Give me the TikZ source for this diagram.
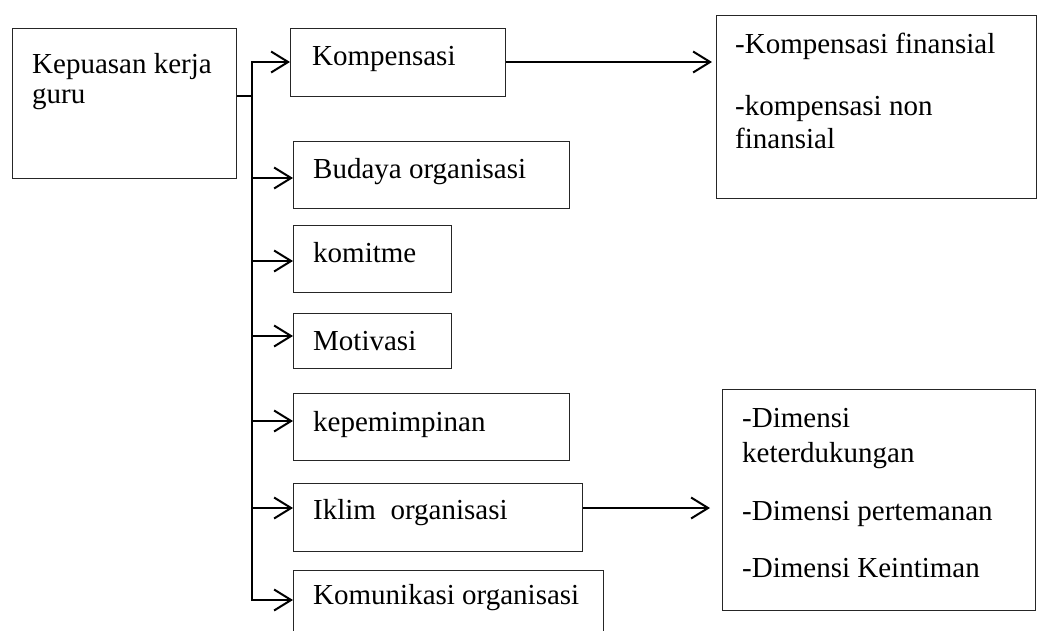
\documentclass[tikz,border=0pt]{standalone}
\usepackage{fontspec}
\setmainfont{Liberation Serif}
\usetikzlibrary{arrows.meta,calc}
\begin{document}
\begin{tikzpicture}[x=1pt,y=-1pt,
  box/.style={draw=black!85, line width=1.1pt, inner sep=0pt, anchor=north west},
  txt/.style={anchor=base west, inner sep=0pt, font=\fontsize{29}{33}\selectfont},
  conn/.style={draw=black, line width=2pt, line join=miter},
  arr/.style={-{Straight Barb[length=17pt,width=21pt,line width=2pt]}},
  thin/.style={draw=black, line width=1.2pt}]
\useasboundingbox (0,0) rectangle (1037,630);
\clip (0,0) rectangle (1037,630);
% boxes
\node[box, minimum width=224pt, minimum height=150pt] (main) at (12,28) {};
\node[box, minimum width=215pt, minimum height=68pt] (komp) at (290,28) {};
\node[box, minimum width=276pt, minimum height=67pt] (budaya) at (293,141) {};
\node[box, minimum width=158pt, minimum height=67pt] (komit) at (293,225) {};
\node[box, minimum width=158pt, minimum height=55pt] (motiv) at (293,313) {};
\node[box, minimum width=276pt, minimum height=67pt] (kepem) at (293,393) {};
\node[box, minimum width=289pt, minimum height=68pt] (iklim) at (293,483) {};
\node[box, minimum width=310pt, minimum height=90pt] (komun) at (293,570) {};
\node[box, minimum width=320pt, minimum height=183pt] (rtop) at (716,15) {};
\node[box, minimum width=313pt, minimum height=221pt] (rbot) at (722,389) {};
% texts
\node[txt] (tmain1) at (32,73) {Kepuasan kerja};
\node[txt] (tmain2) at (32,103) {guru};
\node[txt] (tkomp) at (312,65) {Kompensasi};
\node[txt] (tbud) at (313,178) {Budaya organisasi};
\node[txt] (tkomit) at (313,262) {komitme};
\node[txt] (tmotiv) at (313,350) {Motivasi};
\node[txt] (tkepem) at (313,431) {kepemimpinan};
\node[txt] (tiklim) at (313,519) {Iklim\ \ organisasi};
\node[txt] (tkomun) at (313,604) {Komunikasi organisasi};
\node[txt] (r1) at (735,53) {-Kompensasi finansial};
\node[txt] (r2) at (735,115) {-kompensasi non};
\node[txt] (r3) at (735,148) {finansial};
\node[txt] (s1) at (742,427) {-Dimensi};
\node[txt] (s2) at (742,462) {keterdukungan};
\node[txt] (s3) at (742,520) {-Dimensi pertemanan};
\node[txt] (s4) at (742,577) {-Dimensi Keintiman};
% trunk
\coordinate (jn) at (252,96);
\coordinate (ttop) at (252,62);
\coordinate (tbot) at (252,600);
\draw[thin] (main.east |- jn) -- (jn);
\draw[conn, arr] (tbot) -- (ttop) -- (komp.west |- ttop);
\draw[conn, arr] (ttop) -- (tbot) -- (komun.west |- tbot);
\foreach \n/\y in {budaya/178, komit/261, motiv/336, kepem/421, iklim/508}
  \draw[conn, arr] (252,\y) -- (\n.west |- 0,\y);
% right connectors
\draw[conn, arr, shorten >=4pt] (komp.east |- ttop) -- (rtop.west |- ttop);
\draw[conn, arr, shorten >=12pt] (iklim.east |- 0,508) -- (rbot.west |- 0,508);
\end{tikzpicture}
\end{document}
